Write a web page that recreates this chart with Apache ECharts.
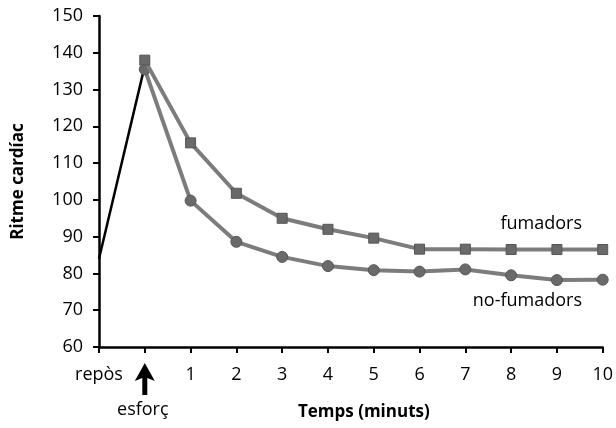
<!DOCTYPE html>
<html><head><meta charset="utf-8">
<script src="https://cdn.jsdelivr.net/npm/echarts@6/dist/echarts.min.js"></script>
<style>html,body{margin:0;padding:0;background:#fff}#c{width:616px;height:428px}</style>
</head><body><div id="c"></div>
<script>
const minutes = [0, 1, 2, 3, 4, 5, 6, 7, 8, 9, 10];
const fumadors = [138, 115.5, 101.8, 95, 92, 89.6, 86.6, 86.6, 86.5, 86.5, 86.5];
const noFumadors = [135.5, 99.8, 88.6, 84.5, 82, 80.9, 80.5, 81.1, 79.5, 78.2, 78.3];
const reposMinute = -1;
const reposValue = 84;
const peakValue = 136.5;
const xTickLabels = { '-1': 'repòs', '0': '' };
const yName = 'Ritme cardíac';
const xName = 'Temps (minuts)';

const FONT = '"Open Sans", sans-serif';
const chart = echarts.init(document.getElementById('c'), null, { renderer: 'canvas' });
const gray = '#7c7c7c';
const option = {
  animation: false,
  grid: { left: 99, right: 6, top: 16, bottom: 81 },
  xAxis: {
    type: 'value', min: -1, max: 10, interval: 1,
    axisLine: { show: true, onZero: false, lineStyle: { color: '#000', width: 2.5 } },
    axisTick: { show: true, length: 6, lineStyle: { color: '#000', width: 2 } },
    splitLine: { show: false },
    axisLabel: {
      margin: 19, color: '#000', fontFamily: FONT, fontSize: 18,
      showMaxLabel: true, showMinLabel: true,
      formatter: v => (xTickLabels[String(v)] !== undefined ? xTickLabels[String(v)] : String(v))
    },
    name: xName, nameLocation: 'middle', nameGap: 57,
    nameTextStyle: { color: '#000', fontFamily: FONT, fontSize: 17, fontWeight: 'bold', padding: [0, 0, 0, 26] }
  },
  yAxis: {
    type: 'value', min: 60, max: 150, interval: 10,
    axisLine: { show: true, onZero: false, lineStyle: { color: '#000', width: 2.5 } },
    axisTick: { show: true, length: 6, lineStyle: { color: '#000', width: 2 } },
    splitLine: { show: false },
    axisLabel: { margin: 16, color: '#000', fontFamily: FONT, fontSize: 18 },
    name: yName, nameLocation: 'middle', nameGap: 72, nameRotate: 90,
    nameTextStyle: { color: '#000', fontFamily: FONT, fontSize: 17, fontWeight: 'bold', padding: [0, 0, 0, 0] }
  },
  series: [
    {
      name: 'repòs', type: 'line', silent: true, symbol: 'none',
      data: [[reposMinute, reposValue], [0, peakValue]],
      lineStyle: { color: '#000', width: 2.5 }, z: 1
    },
    {
      name: 'fumadors', type: 'line', clip: false,
      data: minutes.map((m, i) => [m, fumadors[i]]),
      symbol: 'rect', symbolSize: 10, showAllSymbol: true,
      itemStyle: { color: '#6a6a6a', borderColor: '#555', borderWidth: 1 },
      lineStyle: { color: gray, width: 4 }, z: 3
    },
    {
      name: 'no-fumadors', type: 'line', clip: false,
      data: minutes.map((m, i) => [m, noFumadors[i]]),
      symbol: 'circle', symbolSize: 11, showAllSymbol: true,
      itemStyle: { color: '#6a6a6a', borderColor: '#555', borderWidth: 1 },
      lineStyle: { color: gray, width: 4 }, z: 2
    }
  ]
};
chart.setOption(option);

// annotations positioned via the chart's own scales
const p0 = chart.convertToPixel({ gridIndex: 0 }, [0, 60]);
const yF = chart.convertToPixel({ gridIndex: 0 }, [10, 93.5])[1];
const yN = chart.convertToPixel({ gridIndex: 0 }, [10, 72.5])[1];
const ax = p0[0], ay = p0[1];
chart.setOption({
  graphic: [
    { type: 'polygon', shape: { points: [
        [ax, ay + 16], [ax - 10, ay + 34], [ax - 2.5, ay + 31], [ax - 2.5, ay + 48],
        [ax + 2.5, ay + 48], [ax + 2.5, ay + 31], [ax + 10, ay + 34]] },
      style: { fill: '#000' } },
    { type: 'text', x: ax - 2, y: ay + 63, style: { text: 'esforç', fill: '#000', font: '18px ' + FONT, textAlign: 'center', textVerticalAlign: 'middle' } },
    { type: 'text', x: 582, y: yF, style: { text: 'fumadors', fill: '#000', font: '18px ' + FONT, textAlign: 'right', textVerticalAlign: 'middle' } },
    { type: 'text', x: 582, y: yN, style: { text: 'no-fumadors', fill: '#000', font: '18px ' + FONT, textAlign: 'right', textVerticalAlign: 'middle' } }
  ]
});
</script></body></html>
